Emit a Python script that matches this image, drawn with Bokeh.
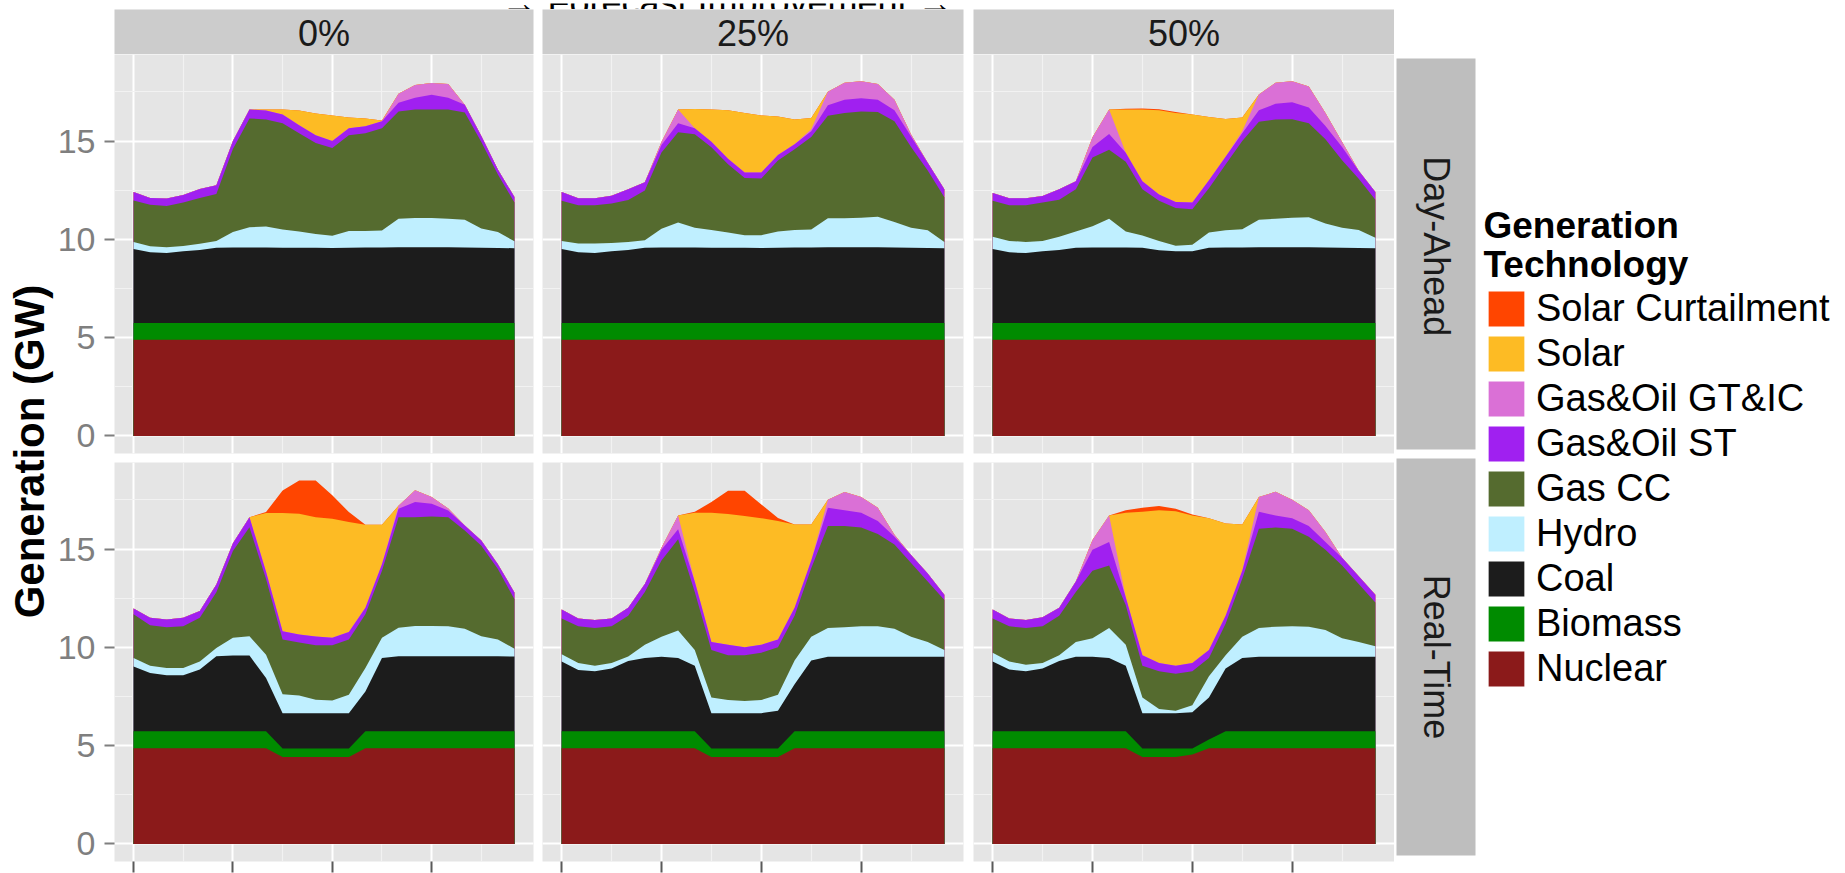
import math

from bokeh.plotting import figure
from bokeh.models import (ColumnDataSource, Range1d, Grid, FixedTicker, LinearAxis,
                          Label, Legend, LegendItem, Spacer)
from bokeh.layouts import row, column
from bokeh.transform import stack
from bokeh.embed import file_html
from bokeh.resources import INLINE

# ---------------------------------------------------------------- data
hours = [0, 1, 2, 3, 4, 5, 6, 7, 8, 9, 10, 11,
         12, 13, 14, 15, 16, 17, 18, 19, 20, 21, 22, 23]

improvements = ["0%", "25%", "50%"]
markets = ["Day-Ahead", "Real-Time"]

tech_keys = ["nuclear", "biomass", "coal", "hydro", "gas_cc",
             "gas_oil_st", "gas_oil_gt_ic", "solar", "solar_curtailment"]
tech_labels = ["Nuclear", "Biomass", "Coal", "Hydro", "Gas CC",
               "Gas&Oil ST", "Gas&Oil GT&IC", "Solar", "Solar Curtailment"]
tech_colors = ["#8B1A1A", "#008B00", "#1C1C1C", "#BFEFFF", "#556B2F",
               "#A020F0", "#DA70D6", "#FDBB24", "#FF4500"]

# Day-ahead schedule (GW)
da_nuclear = [4.90, 4.90, 4.90, 4.90, 4.90, 4.90, 4.90, 4.90, 4.90, 4.90, 4.90, 4.90,
              4.90, 4.90, 4.90, 4.90, 4.90, 4.90, 4.90, 4.90, 4.90, 4.90, 4.90, 4.90]
da_biomass = [0.85, 0.85, 0.85, 0.85, 0.85, 0.85, 0.85, 0.85, 0.85, 0.85, 0.85, 0.85,
              0.85, 0.85, 0.85, 0.85, 0.85, 0.85, 0.85, 0.85, 0.85, 0.85, 0.85, 0.85]
da_coal = [3.76, 3.59, 3.55, 3.65, 3.71, 3.82, 3.83, 3.83, 3.83, 3.82, 3.82, 3.82,
           3.81, 3.82, 3.83, 3.83, 3.85, 3.85, 3.85, 3.85, 3.83, 3.82, 3.81, 3.80]
zero = [0.0, 0.0, 0.0, 0.0, 0.0, 0.0, 0.0, 0.0, 0.0, 0.0, 0.0, 0.0,
        0.0, 0.0, 0.0, 0.0, 0.0, 0.0, 0.0, 0.0, 0.0, 0.0, 0.0, 0.0]

da0_hydro = [0.35, 0.31, 0.30, 0.26, 0.32, 0.35, 0.79, 1.04, 1.07, 0.93, 0.83, 0.70,
             0.62, 0.86, 0.85, 0.87, 1.45, 1.48, 1.48, 1.45, 1.42, 0.98, 0.81, 0.35]
da0_gascc = [2.12, 2.11, 2.10, 2.21, 2.32, 2.38, 4.23, 5.53, 5.45, 5.40, 5.00, 4.63,
             4.47, 4.87, 4.97, 5.20, 5.45, 5.52, 5.52, 5.55, 5.45, 4.40, 2.93, 1.97]
da0_st = [0.43, 0.34, 0.38, 0.38, 0.46, 0.45, 0.40, 0.45, 0.45, 0.45, 0.40, 0.40,
          0.35, 0.35, 0.35, 0.35, 0.45, 0.60, 0.75, 0.60, 0.40, 0.30, 0.25, 0.28]
da0_gt = [0.0, 0.0, 0.0, 0.0, 0.0, 0.0, 0.0, 0.0, 0.0, 0.0, 0.0, 0.0,
          0.0, 0.0, 0.0, 0.0, 0.45, 0.65, 0.60, 0.70, 0.0, 0.0, 0.0, 0.0]
da0_solar = [0.0, 0.0, 0.0, 0.0, 0.0, 0.0, 0.0, 0.0, 0.05, 0.25, 0.75, 1.10,
             1.30, 0.55, 0.40, 0.05, 0.0, 0.0, 0.0, 0.0, 0.0, 0.0, 0.0, 0.0]

da25_hydro = [0.41, 0.45, 0.49, 0.42, 0.41, 0.38, 0.96, 1.28, 1.01, 0.91, 0.78, 0.64,
              0.65, 0.83, 0.90, 0.92, 1.47, 1.47, 1.50, 1.55, 1.30, 1.02, 0.90, 0.32]
da25_gascc = [2.04, 1.95, 1.95, 2.00, 2.13, 2.54, 3.88, 4.58, 4.76, 4.20, 3.47, 2.91,
              2.89, 3.61, 4.10, 4.70, 5.22, 5.36, 5.40, 5.33, 5.12, 4.11, 3.04, 2.27]
da25_st = [0.45, 0.35, 0.35, 0.40, 0.55, 0.41, 0.38, 0.46, 0.30, 0.28, 0.28, 0.28,
           0.30, 0.28, 0.25, 0.30, 0.53, 0.67, 0.68, 0.62, 0.57, 0.53, 0.39, 0.41]
da25_gt = [0.0, 0.0, 0.0, 0.0, 0.0, 0.0, 0.15, 0.70, 0.0, 0.0, 0.0, 0.0,
           0.0, 0.0, 0.0, 0.10, 0.68, 0.86, 0.86, 0.80, 0.53, 0.10, 0.0, 0.0]
da25_solar = [0.0, 0.0, 0.0, 0.0, 0.0, 0.0, 0.0, 0.0, 0.98, 1.64, 2.47, 3.03,
              2.90, 1.96, 1.26, 0.57, 0.0, 0.0, 0.0, 0.0, 0.0, 0.0, 0.0, 0.0]

da50_coal = [3.76, 3.59, 3.55, 3.65, 3.71, 3.82, 3.83, 3.83, 3.83, 3.82, 3.70, 3.65,
             3.65, 3.82, 3.83, 3.83, 3.85, 3.85, 3.85, 3.85, 3.83, 3.82, 3.81, 3.80]
da50_hydro = [0.62, 0.58, 0.57, 0.52, 0.67, 0.83, 1.09, 1.47, 0.82, 0.62, 0.47, 0.28,
              0.33, 0.78, 0.88, 0.93, 1.40, 1.45, 1.50, 1.53, 1.22, 1.02, 0.92, 0.53]
da50_gascc = [1.83, 1.82, 1.87, 1.96, 1.88, 2.15, 3.49, 3.51, 3.55, 2.36, 2.04, 1.92,
              1.80, 2.25, 3.34, 4.49, 4.98, 5.04, 5.01, 4.77, 4.29, 3.43, 2.60, 1.93]
da50_st = [0.40, 0.35, 0.35, 0.32, 0.54, 0.40, 0.53, 0.80, 0.45, 0.40, 0.32, 0.30,
           0.35, 0.40, 0.40, 0.40, 0.59, 0.80, 0.86, 0.80, 0.67, 0.67, 0.41, 0.40]
da50_gt = [0.0, 0.0, 0.0, 0.0, 0.0, 0.0, 0.50, 1.24, 0.0, 0.0, 0.0, 0.0,
           0.0, 0.0, 0.0, 0.10, 0.80, 1.07, 1.07, 1.07, 0.67, 0.26, 0.0, 0.0]
da50_solar = [0.0, 0.0, 0.0, 0.0, 0.0, 0.0, 0.0, 0.0, 2.20, 3.65, 4.29, 4.53,
              4.47, 3.22, 1.92, 0.70, 0.0, 0.0, 0.0, 0.0, 0.0, 0.0, 0.0, 0.0]
da50_curt = [0.0, 0.0, 0.0, 0.0, 0.0, 0.0, 0.0, 0.0, 0.04, 0.05, 0.05, 0.04,
             0.0, 0.0, 0.0, 0.0, 0.0, 0.0, 0.0, 0.0, 0.0, 0.0, 0.0, 0.0]

# Real-time dispatch (GW)
rt_nuclear = [4.87, 4.87, 4.87, 4.87, 4.87, 4.87, 4.87, 4.87, 4.87, 4.42, 4.42, 4.42,
              4.42, 4.42, 4.87, 4.87, 4.87, 4.87, 4.87, 4.87, 4.87, 4.87, 4.87, 4.87]
rt_biomass = [0.86, 0.86, 0.86, 0.86, 0.86, 0.86, 0.86, 0.86, 0.86, 0.44, 0.44, 0.44,
              0.44, 0.44, 0.86, 0.86, 0.86, 0.86, 0.86, 0.86, 0.86, 0.86, 0.86, 0.86]

rt0_coal = [3.30, 2.97, 2.85, 2.85, 3.14, 3.82, 3.85, 3.85, 2.71, 1.79, 1.79, 1.79,
            1.79, 1.79, 2.03, 3.73, 3.82, 3.82, 3.82, 3.82, 3.82, 3.82, 3.82, 3.80]
rt0_hydro = [0.43, 0.37, 0.37, 0.37, 0.41, 0.42, 0.91, 0.99, 1.19, 0.97, 0.90, 0.68,
             0.65, 0.94, 1.19, 1.03, 1.45, 1.53, 1.53, 1.52, 1.40, 1.02, 0.85, 0.40]
rt0_gascc = [2.22, 2.06, 2.07, 2.12, 2.23, 2.83, 4.41, 5.54, 3.84, 2.78, 2.70, 2.78,
             2.81, 2.81, 2.73, 3.40, 5.62, 5.54, 5.57, 5.55, 4.99, 4.60, 3.58, 2.51]
rt0_st = [0.30, 0.38, 0.40, 0.44, 0.34, 0.40, 0.40, 0.51, 0.37, 0.42, 0.40, 0.44,
          0.38, 0.38, 0.34, 0.34, 0.43, 0.77, 0.65, 0.34, 0.26, 0.26, 0.25, 0.35]
rt0_gt = [0.0, 0.0, 0.0, 0.0, 0.0, 0.0, 0.0, 0.0, 0.0, 0.0, 0.0, 0.0,
          0.0, 0.0, 0.0, 0.0, 0.15, 0.60, 0.35, 0.10, 0.0, 0.0, 0.0, 0.0]
rt0_solar = [0.0, 0.0, 0.0, 0.0, 0.0, 0.0, 0.0, 0.0, 2.99, 6.01, 6.14, 6.07,
             6.05, 5.59, 4.22, 2.01, 0.0, 0.0, 0.0, 0.0, 0.0, 0.0, 0.0, 0.0]
rt0_curt = [0.0, 0.0, 0.0, 0.0, 0.0, 0.0, 0.0, 0.0, 0.05, 1.15, 1.70, 1.87,
            1.19, 0.51, 0.0, 0.0, 0.0, 0.0, 0.0, 0.0, 0.0, 0.0, 0.0, 0.0]

rt25_coal = [3.55, 3.12, 3.06, 3.20, 3.57, 3.73, 3.79, 3.73, 3.33, 1.79, 1.79, 1.79,
             1.79, 1.92, 2.39, 3.60, 3.79, 3.79, 3.79, 3.79, 3.79, 3.79, 3.79, 3.79]
rt25_hydro = [0.37, 0.35, 0.27, 0.27, 0.24, 0.67, 1.02, 1.40, 0.81, 0.80, 0.67, 0.62,
              0.67, 0.81, 1.21, 1.21, 1.47, 1.50, 1.55, 1.55, 1.42, 1.02, 0.75, 0.35]
rt25_gascc = [1.82, 1.87, 1.93, 1.87, 2.07, 2.69, 3.88, 4.64, 2.95, 2.42, 2.28, 2.33,
              2.41, 2.41, 2.28, 3.48, 5.18, 5.15, 5.02, 4.69, 4.29, 3.75, 3.08, 2.54]
rt25_st = [0.46, 0.40, 0.40, 0.40, 0.40, 0.40, 0.54, 0.50, 0.53, 0.40, 0.53, 0.40,
           0.40, 0.40, 0.40, 0.40, 0.93, 0.80, 0.75, 0.67, 0.40, 0.40, 0.40, 0.27]
rt25_gt = [0.0, 0.0, 0.0, 0.0, 0.0, 0.0, 0.10, 0.70, 0.0, 0.0, 0.0, 0.0,
           0.0, 0.0, 0.0, 0.0, 0.40, 0.93, 0.80, 0.67, 0.10, 0.0, 0.0, 0.0]
rt25_solar = [0.0, 0.0, 0.0, 0.0, 0.0, 0.0, 0.0, 0.0, 3.49, 6.57, 6.65, 6.68,
              6.44, 6.03, 4.24, 1.83, 0.0, 0.0, 0.0, 0.0, 0.0, 0.0, 0.0, 0.0]
rt25_curt = [0.0, 0.0, 0.0, 0.0, 0.0, 0.0, 0.0, 0.0, 0.05, 0.55, 1.18, 1.28,
             0.70, 0.15, 0.0, 0.0, 0.0, 0.0, 0.0, 0.0, 0.0, 0.0, 0.0, 0.0]

rt50_nuclear = [4.87, 4.87, 4.87, 4.87, 4.87, 4.87, 4.87, 4.87, 4.87, 4.42, 4.42, 4.42,
                4.55, 4.87, 4.87, 4.87, 4.87, 4.87, 4.87, 4.87, 4.87, 4.87, 4.87, 4.87]
rt50_biomass = [0.86, 0.86, 0.86, 0.86, 0.86, 0.86, 0.86, 0.86, 0.86, 0.44, 0.44, 0.44,
                0.31, 0.45, 0.86, 0.86, 0.86, 0.86, 0.86, 0.86, 0.86, 0.86, 0.86, 0.86]
rt50_coal = [3.55, 3.14, 3.06, 3.20, 3.57, 3.79, 3.79, 3.73, 3.33, 1.79, 1.79, 1.79,
             1.84, 2.13, 3.20, 3.73, 3.79, 3.79, 3.79, 3.79, 3.79, 3.79, 3.79, 3.79]
rt50_hydro = [0.45, 0.41, 0.33, 0.27, 0.30, 0.75, 0.94, 1.53, 1.07, 0.80, 0.21, 0.13,
              0.35, 1.08, 0.67, 1.08, 1.47, 1.53, 1.55, 1.53, 1.36, 0.94, 0.75, 0.53]
rt50_gascc = [1.74, 1.79, 1.87, 1.87, 2.01, 2.55, 3.43, 3.17, 2.01, 1.61, 1.93, 1.88,
              1.74, 0.93, 1.60, 2.95, 5.04, 5.04, 4.96, 4.58, 4.08, 3.70, 2.95, 2.23]
rt50_st = [0.46, 0.40, 0.40, 0.46, 0.40, 0.53, 1.07, 1.20, 0.41, 0.54, 0.41, 0.40,
           0.41, 0.41, 0.41, 0.40, 0.86, 0.61, 0.54, 0.54, 0.40, 0.40, 0.40, 0.40]
rt50_gt = [0.0, 0.0, 0.0, 0.0, 0.0, 0.0, 0.50, 1.34, 0.0, 0.0, 0.0, 0.0,
           0.0, 0.0, 0.0, 0.0, 0.75, 1.21, 0.93, 0.80, 0.50, 0.0, 0.0, 0.0]
rt50_solar = [0.0, 0.0, 0.0, 0.0, 0.0, 0.0, 0.0, 0.0, 4.29, 7.29, 7.77, 7.86,
              7.50, 6.70, 4.69, 2.36, 0.0, 0.0, 0.0, 0.0, 0.0, 0.0, 0.0, 0.0]
rt50_curt = [0.0, 0.0, 0.0, 0.0, 0.0, 0.0, 0.0, 0.0, 0.13, 0.21, 0.22, 0.13,
             0.06, 0.0, 0.0, 0.0, 0.0, 0.0, 0.0, 0.0, 0.0, 0.0, 0.0, 0.0]

# series per facet, bottom layer first (same order as tech_keys)
facets = {
    ("Day-Ahead", "0%"): [da_nuclear, da_biomass, da_coal, da0_hydro, da0_gascc,
                          da0_st, da0_gt, da0_solar, zero],
    ("Day-Ahead", "25%"): [da_nuclear, da_biomass, da_coal, da25_hydro, da25_gascc,
                           da25_st, da25_gt, da25_solar, zero],
    ("Day-Ahead", "50%"): [da_nuclear, da_biomass, da50_coal, da50_hydro, da50_gascc,
                           da50_st, da50_gt, da50_solar, da50_curt],
    ("Real-Time", "0%"): [rt_nuclear, rt_biomass, rt0_coal, rt0_hydro, rt0_gascc,
                          rt0_st, rt0_gt, rt0_solar, rt0_curt],
    ("Real-Time", "25%"): [rt_nuclear, rt_biomass, rt25_coal, rt25_hydro, rt25_gascc,
                           rt25_st, rt25_gt, rt25_solar, rt25_curt],
    ("Real-Time", "50%"): [rt50_nuclear, rt50_biomass, rt50_coal, rt50_hydro, rt50_gascc,
                           rt50_st, rt50_gt, rt50_solar, rt50_curt],
}

# ---------------------------------------------------------------- style
FONT = "Liberation Sans"
PANEL_BG = "#E5E5E5"
STRIP_BG = "#CCCCCC"
SIDE_STRIP_BG = "#BEBEBE"
AXIS_GREY = "#7F7F7F"

YLAB_W = 54
FRAME_W, FRAME_H = 421, 399
COL_BORDERS = [(58, 4), (5, 5), (5, 0)]      # (left, right) per facet column
ROW_BORDERS = [(0, 5), (4, 12)]              # (top, bottom) per facet row
STRIP_H = 45
HEADER_H = 9
SIDE_W = 84
X_RANGE = (-1.15, 24.15)
Y_RANGE = (-0.89, 19.4)


def fig(width, height, **kw):
    opts = dict(width=width, height=height, toolbar_location=None,
                output_backend="svg", x_axis_type=None, y_axis_type=None,
                outline_line_color=None, border_fill_color="white",
                background_fill_color="white")
    opts.update(kw)
    return figure(**opts)


def facet_panel(market, imp, ci, ri):
    left, right = COL_BORDERS[ci]
    top, bottom = ROW_BORDERS[ri]
    p = fig(left + FRAME_W + right, top + FRAME_H + bottom,
            x_range=Range1d(*X_RANGE), y_range=Range1d(*Y_RANGE),
            min_border_left=left, min_border_right=right,
            min_border_top=top, min_border_bottom=bottom,
            background_fill_color=PANEL_BG)
    p.add_layout(Grid(dimension=0,
                      ticker=FixedTicker(ticks=[0, 6, 12, 18], minor_ticks=[3, 9, 15, 21]),
                      grid_line_color="white", grid_line_width=2,
                      minor_grid_line_color="#F2F2F2", minor_grid_line_width=1.2))
    p.add_layout(Grid(dimension=1,
                      ticker=FixedTicker(ticks=[0, 5, 10, 15],
                                         minor_ticks=[2.5, 7.5, 12.5, 17.5]),
                      grid_line_color="white", grid_line_width=2,
                      minor_grid_line_color="#F2F2F2", minor_grid_line_width=1.2))

    data = {"hour": hours}
    data.update(dict(zip(tech_keys, facets[(market, imp)])))
    src = ColumnDataSource(data)
    # cumulative areas drawn from the top layer down, so layers overlap without seams
    for k in range(len(tech_keys) - 1, -1, -1):
        p.varea(x="hour", y1=0, y2=stack(*tech_keys[:k + 1]), source=src,
                fill_color=tech_colors[k])

    if ci == 0:
        yax = LinearAxis(ticker=FixedTicker(ticks=[0, 5, 10, 15]),
                         axis_line_color=None, major_tick_in=0, major_tick_out=10,
                         major_tick_line_color=AXIS_GREY, major_tick_line_width=2,
                         minor_tick_in=0, minor_tick_out=0,
                         major_label_standoff=9, major_label_text_color=AXIS_GREY,
                         major_label_text_font=FONT, major_label_text_font_size="34px")
        p.add_layout(yax, "left")
    if ri == 1:
        # hour ticks; their labels fall below the page edge, so none are drawn
        xax = LinearAxis(ticker=FixedTicker(ticks=[0, 6, 12, 18]),
                         axis_line_color=None, major_tick_in=0, major_tick_out=11,
                         major_tick_line_color="#5A5A5A", major_tick_line_width=2,
                         minor_tick_in=0, minor_tick_out=0,
                         major_label_standoff=0, major_label_text_font_size="1px",
                         major_label_text_color=None)
        p.add_layout(xax, "below")
    return p


def top_strip(text, ci):
    left, right = COL_BORDERS[ci]
    s = fig(left + FRAME_W + right, STRIP_H,
            x_range=Range1d(0, 1), y_range=Range1d(0, 1),
            min_border_left=left, min_border_right=right,
            min_border_top=0, min_border_bottom=0,
            background_fill_color=STRIP_BG)
    s.add_layout(Label(x=0.5, y=0.46, text=text, text_align="center",
                       text_baseline="middle", text_font=FONT,
                       text_font_size="36px", text_color="#1A1A1A"))
    return s


def side_strip(text, height, top, bottom, ypos):
    s = fig(SIDE_W, height, x_range=Range1d(0, 1), y_range=Range1d(0, 1),
            min_border_left=2, min_border_right=3,
            min_border_top=top, min_border_bottom=bottom,
            background_fill_color=SIDE_STRIP_BG)
    s.add_layout(Label(x=0.5, y=ypos, text=text, angle=-math.pi / 2,
                       text_align="center", text_baseline="middle",
                       text_font=FONT, text_font_size="36px", text_color="#1A1A1A"))
    return s


# ---------------------------------------------------------------- facets
columns = []
for ci, imp in enumerate(improvements):
    cells = [top_strip(imp, ci)]
    for ri, market in enumerate(markets):
        cells.append(facet_panel(market, imp, ci, ri))
    columns.append(column(*cells, spacing=0))

top_h = ROW_BORDERS[0][0] + FRAME_H + ROW_BORDERS[0][1]
bot_h = ROW_BORDERS[1][0] + FRAME_H + ROW_BORDERS[1][1]
side = column(Spacer(width=SIDE_W, height=STRIP_H),
              side_strip("Day-Ahead", top_h, 4, 9, 0.52),
              side_strip("Real-Time", bot_h, 0, 18, 0.5),
              spacing=0)

body_h = STRIP_H + top_h + bot_h

# y-axis title shared by both rows
ylab = fig(YLAB_W, body_h, x_range=Range1d(0, YLAB_W), y_range=Range1d(body_h, 0),
           min_border=0)
ylab.add_layout(Label(x=29, y=442, text="Generation (GW)", angle=math.pi / 2,
                      text_align="center", text_baseline="middle", text_font=FONT,
                      text_font_style="bold", text_font_size="42px", text_color="black"))

# legend
leg_w = 1845 - YLAB_W - sum(l + FRAME_W + r for l, r in COL_BORDERS) - SIDE_W
lg = fig(leg_w, body_h, x_range=Range1d(0, leg_w), y_range=Range1d(body_h, 0),
         min_border=0)
nan = float("nan")
items = []
for k in range(len(tech_keys) - 1, -1, -1):
    # key glyph only: a single undefined quad, nothing drawn in the plot area
    r = lg.quad(left=[nan], right=[nan], top=[nan], bottom=[nan],
                fill_color=tech_colors[k], line_color="white", line_width=1)
    items.append(LegendItem(label=tech_labels[k], renderers=[r]))
legend = Legend(items=items, location=(5, 182), padding=0, margin=0, spacing=0,
                glyph_width=46, glyph_height=45, label_height=45, label_standoff=7,
                label_text_font=FONT, label_text_font_size="38px",
                label_text_color="black", border_line_color=None,
                background_fill_alpha=0)
lg.add_layout(legend)
for txt, yy in (("Generation", 216), ("Technology", 255)):
    lg.add_layout(Label(x=5, y=yy, text=txt, text_align="left",
                        text_baseline="middle", text_font=FONT,
                        text_font_style="bold", text_font_size="37px",
                        text_color="black"))

# header with the facet-direction caption (mostly above the page edge)
header = fig(1845, HEADER_H, x_range=Range1d(0, 1845), y_range=Range1d(HEADER_H, 0),
             min_border=0)
header.add_layout(Label(x=727, y=-1, text="\u2192 Forecast Improvement \u2192",
                        text_align="center", text_baseline="middle",
                        text_font=FONT, text_font_size="36px", text_color="black"))

layout = column(header,
                row(ylab, *columns, side, lg, spacing=0),
                spacing=0)

open("out.html", "w").write(file_html(layout, INLINE, title="Generation by technology"))
